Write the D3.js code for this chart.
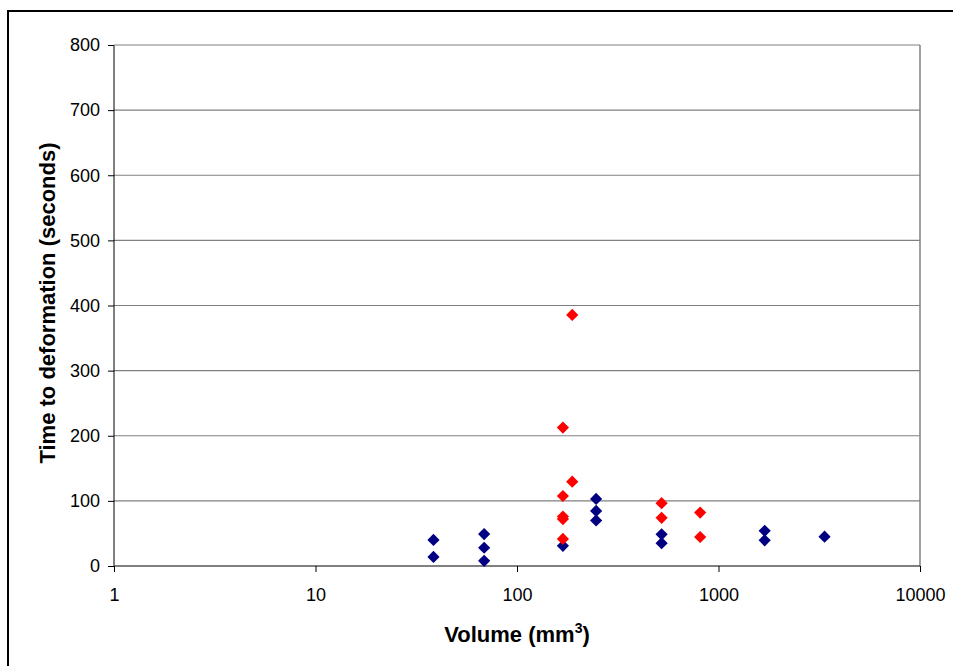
<!doctype html>
<html lang="en">
<head>
  <meta charset="utf-8">
  <style>
    body { margin: 0; background: #fff; }
    text { font-family: "Liberation Sans", Arial, sans-serif; }
  </style>
</head>
<body>
  <script src="https://d3js.org/d3.v7.min.js"></script>
  <div id="chart"></div>
  <script>
  // volume (mm3) and time to deformation (s)
  var blueVolume = [38.5, 38.5, 68.7, 68.7, 68.7, 169, 247, 247, 247, 522, 522, 1695, 1695, 3360];
  var blueTime   = [40, 14, 49, 28, 8, 31, 103, 84.5, 70, 48.7, 35, 54, 39.5, 45];
  var redVolume  = [188, 169, 188, 169, 169, 169, 169, 522, 522, 811, 811];
  var redTime    = [385.5, 212.5, 129.5, 107.5, 76, 72, 41.5, 96.5, 74, 82, 44.5];
  var xTicks = [1, 10, 100, 1000, 10000];
  var yTicks = [0, 100, 200, 300, 400, 500, 600, 700, 800];

  var width = 953, height = 666;
  var margin = {top: 45, right: 33, bottom: 100, left: 114};
  var pw = width - margin.left - margin.right,
      ph = height - margin.top - margin.bottom;

  var svg = d3.select("#chart").append("svg")
      .attr("width", width)
      .attr("height", height);

  // outer frame
  svg.append("rect")
     .attr("x", 8).attr("y", 11)
     .attr("width", 960).attr("height", 680)
     .attr("fill", "none")
     .attr("stroke", "#000")
     .attr("stroke-width", 2);

  var g = svg.append("g")
      .attr("transform", "translate(" + margin.left + "," + margin.top + ")");

  var x = d3.scaleLog().domain([1, 10000]).range([0, pw]);
  var y = d3.scaleLinear().domain([0, 800]).range([ph, 0]);

  // gridlines
  g.selectAll(".grid")
   .data(yTicks.filter(function (d) { return d > 0; }))
   .enter().append("line")
   .attr("x1", 0).attr("x2", pw)
   .attr("y1", function (d) { return y(d); })
   .attr("y2", function (d) { return y(d); })
   .attr("stroke", "#808080")
   .attr("stroke-width", 1.2);

  g.append("line")
   .attr("x1", pw).attr("x2", pw).attr("y1", 0).attr("y2", ph)
   .attr("stroke", "#808080").attr("stroke-width", 1.5);

  var yAxis = g.append("g")
    .call(d3.axisLeft(y).tickValues(yTicks).tickSize(6).tickPadding(8).tickFormat(d3.format("d")));
  var xAxis = g.append("g")
    .attr("transform", "translate(0," + ph + ")")
    .call(d3.axisBottom(x).tickValues(xTicks).tickSize(6).tickPadding(16).tickFormat(d3.format("d")));

  [xAxis, yAxis].forEach(function (a) {
    a.select(".domain").attr("stroke", "#000").attr("stroke-width", 1);
    a.selectAll(".tick line").attr("stroke", "#000");
    a.selectAll(".tick text")
     .attr("font-family", "Liberation Sans, Arial, sans-serif")
     .attr("font-size", 18)
     .attr("fill", "#000");
  });
  xAxis.select(".domain").attr("d", "M0.5,0H" + pw);
  yAxis.select(".domain").attr("d", "M0,0.5V" + ph);

  var diamond = d3.symbol().type(d3.symbolDiamond2).size(95);

  function drawSeries(xs, ys, color) {
    g.append("g").selectAll("path")
     .data(xs.map(function (v, i) { return [v, ys[i]]; }))
     .enter().append("path")
     .attr("d", diamond)
     .attr("transform", function (d) { return "translate(" + x(d[0]) + "," + y(d[1]) + ")"; })
     .attr("fill", color);
  }
  drawSeries(blueVolume, blueTime, "#000080");
  drawSeries(redVolume, redTime, "#ff0000");

  // axis titles
  var xt = svg.append("text")
     .attr("x", margin.left + pw / 2)
     .attr("y", 642)
     .attr("text-anchor", "middle")
     .attr("font-size", 22)
     .attr("font-weight", "bold")
     .text("Volume (mm");
  xt.append("tspan").attr("dy", -9).attr("font-size", 14).text("3");
  xt.append("tspan").attr("dy", 9).text(")");

  svg.append("text")
     .attr("transform", "translate(55,303) rotate(-90)")
     .attr("text-anchor", "middle")
     .attr("font-size", 22)
     .attr("font-weight", "bold")
     .text("Time to deformation (seconds)");
  </script>
</body>
</html>
